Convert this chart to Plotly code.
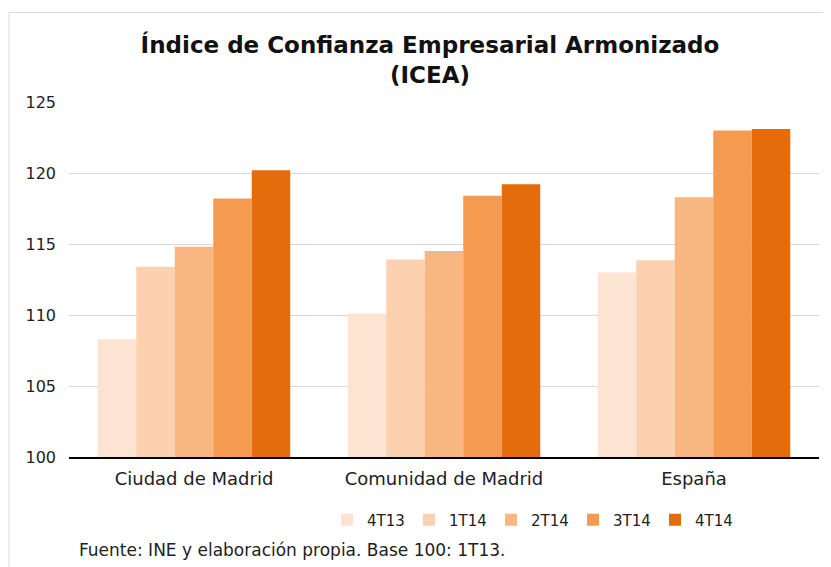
import plotly.graph_objects as go

categories = ["Ciudad de Madrid", "Comunidad de Madrid", "España"]
series_names = ["4T13", "1T14", "2T14", "3T14", "4T14"]
values = {
    "4T13": [108.3, 110.1, 113.0],
    "1T14": [113.4, 113.9, 113.85],
    "2T14": [114.8, 114.5, 118.3],
    "3T14": [118.2, 118.4, 123.0],
    "4T14": [120.2, 119.2, 123.1],
}
colors = ["#FDE3D1", "#FBD1B0", "#F8B681", "#F59B50", "#E46C0A"]
tick_vals = [100, 105, 110, 115, 120, 125]

FONT = "DejaVu Sans, Liberation Sans, Arial, sans-serif"

fig = go.Figure()
for name, col in zip(series_names, colors):
    fig.add_trace(go.Bar(
        x=categories, y=values[name], name=name,
        marker=dict(color=col, line=dict(width=0)),
    ))

# page has an 8px body margin; figure coords = page coords - 8
OFF = 8
W, H = 831 - OFF, 567 - OFF
L = 69 - OFF
R = W - (819 - OFF)
T = 102 - OFF
B = H - (457 - OFF)
pw, ph = W - L - R, H - T - B

def px_x(page_x):
    return (page_x - OFF - L) / pw

def px_y(page_y):
    return (457 - page_y) / ph

fig.update_layout(
    width=W, height=H,
    margin=dict(l=L, r=R, t=T, b=B),
    paper_bgcolor="white", plot_bgcolor="white",
    barmode="group", bargap=0.23, bargroupgap=0,
    font=dict(family=FONT, size=16, color="#222"),
    title=dict(
        text="<b>Índice de Confianza Empresarial Armonizado<br>(ICEA)</b>",
        x=(430 - OFF) / W, xanchor="center", y=1 - (53 - OFF) / H, yanchor="middle",
        font=dict(family=FONT, size=23, color="#111"),
    ),
    legend=dict(
        orientation="h", x=px_x(532), xanchor="center", y=px_y(520), yanchor="middle",
        font=dict(family=FONT, size=15, color="#222"), traceorder="normal",
        entrywidth=37, entrywidthmode="pixels",
    ),
    showlegend=True,
    yaxis=dict(
        range=[100, 125], tickvals=tick_vals, showgrid=True, gridcolor="#D9D9D9",
        gridwidth=1, zeroline=False, showline=False, ticks="", ticklen=0,
        tickfont=dict(family=FONT, size=16, color="#222"), ticklabelstandoff=12,
    ),
    xaxis=dict(
        showline=True, linecolor="black", linewidth=2, ticks="",
        tickfont=dict(family=FONT, size=18, color="#222"), ticklabelstandoff=4,
    ),
    annotations=[dict(
        text="Fuente: INE y elaboración propia. Base 100: 1T13.",
        xref="paper", yref="paper", x=px_x(77), y=px_y(550),
        xanchor="left", yanchor="middle", showarrow=False,
        font=dict(family=FONT, size=17, color="#222"),
    )],
    shapes=[
        dict(type="line", xref="paper", yref="paper",
             x0=px_x(9), x1=px_x(9), y0=px_y(567), y1=px_y(12.5),
             line=dict(color="#D9D9D9", width=1)),
        dict(type="line", xref="paper", yref="paper",
             x0=px_x(9), x1=px_x(831), y0=px_y(12.5), y1=px_y(12.5),
             line=dict(color="#D9D9D9", width=1)),
    ],
)

fig.write_html("out.html")
